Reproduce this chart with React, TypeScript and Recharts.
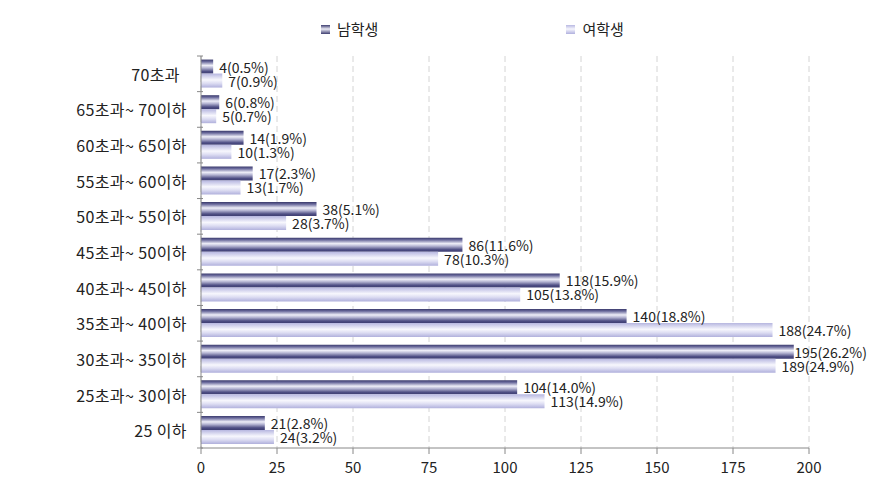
import { useEffect } from "react";
import {
  BarChart,
  Bar,
  XAxis,
  YAxis,
  CartesianGrid,
  LabelList
} from "recharts";

const categories = [
  "70초과",
  "65초과~ 70이하",
  "60초과~ 65이하",
  "55초과~ 60이하",
  "50초과~ 55이하",
  "45초과~ 50이하",
  "40초과~ 45이하",
  "35초과~ 40이하",
  "30초과~ 35이하",
  "25초과~ 30이하",
  "25 이하"
];
const maleValues = [4, 6, 14, 17, 38, 86, 118, 140, 195, 104, 21];
const malePct = ["0.5", "0.8", "1.9", "2.3", "5.1", "11.6", "15.9", "18.8", "26.2", "14.0", "2.8"];
const femaleValues = [7, 5, 10, 13, 28, 78, 105, 188, 189, 113, 24];
const femalePct = ["0.9", "0.7", "1.3", "1.7", "3.7", "10.3", "13.8", "24.7", "24.9", "14.9", "3.2"];
const xTicks = [0, 25, 50, 75, 100, 125, 150, 175, 200];

const data = categories.map((c, i) => ({
  name: c,
  male: maleValues[i],
  female: femaleValues[i],
  maleLabel: `${maleValues[i]}(${malePct[i]}%)`,
  femaleLabel: `${femaleValues[i]}(${femalePct[i]}%)`
}));

const FONT = "'Noto Sans CJK KR', 'Noto Sans', sans-serif";
const RIGHT_LIMIT = 867;

function CategoryTick(props: any) {
  const { x, y, payload } = props;
  const off = payload.offset || 0;
  const first = payload.index === 0;
  return (
    <g>
      <line x1={x + 4} x2={x + 10} y1={y - off} y2={y - off} stroke="#888" />
      {payload.index === categories.length - 1 && (
        <line x1={x + 4} x2={x + 10} y1={y + off} y2={y + off} stroke="#888" />
      )}
      <text
        x={first ? x - 13 : x - 6}
        y={y}
        textAnchor="end"
        dominantBaseline="central"
        fontSize={16}
        letterSpacing={0.4}
        fill="#222"
        fontFamily={FONT}
      >
        {payload.value}
      </text>
    </g>
  );
}

// value label to the right of the bar, pulled back if it would run off the page
function ValueLabel(props: any) {
  const { x, y, width, height, value } = props;
  const s = String(value);
  const tx = x + width + 6;
  const est = s.length * 7.3;
  const over = tx + est > RIGHT_LIMIT;
  return (
    <text
      x={over ? RIGHT_LIMIT : tx}
      y={y + height / 2}
      textAnchor={over ? "end" : "start"}
      dominantBaseline="central"
      fontSize={14}
      fill="#222"
      fontFamily={FONT}
    >
      {s}
    </text>
  );
}

function LegendBox() {
  const item = (label: string, grad: string, ml: number) => (
    <div style={{ display: "flex", alignItems: "center", marginLeft: ml }}>
      <svg width={9} height={9} style={{ marginRight: 7 }}>
        <rect width={9} height={9} fill={`url(#${grad})`} />
      </svg>
      <span style={{ fontSize: 15, color: "#222", fontFamily: FONT, lineHeight: "20px" }}>
        {label}
      </span>
    </div>
  );
  return (
    <div style={{ position: "absolute", top: 19, left: 0, display: "flex", width: 871 }}>
      {item("남학생", "legMale", 321)}
      {item("여학생", "legFemale", 188)}
    </div>
  );
}

export default function App() {
  useEffect(() => {
    document.body.style.margin = "0";
  }, []);

  return (
    <div style={{ width: 871, height: 493, background: "#fff", position: "relative" }}>
      <svg width={0} height={0} style={{ position: "absolute" }}>
        <defs>
          <linearGradient id="legMale" x1="0" y1="0" x2="0" y2="1">
            <stop offset="0" stopColor="#3d3d70" />
            <stop offset="0.45" stopColor="#ececf6" />
            <stop offset="1" stopColor="#3d3d70" />
          </linearGradient>
          <linearGradient id="legFemale" x1="0" y1="0" x2="0" y2="1">
            <stop offset="0" stopColor="#b8b8e2" />
            <stop offset="0.45" stopColor="#f6f6fd" />
            <stop offset="1" stopColor="#b0b0de" />
          </linearGradient>
        </defs>
      </svg>
      <BarChart
        width={871}
        height={493}
        data={data}
        layout="vertical"
        margin={{ top: 56, right: 62, left: 0, bottom: 0 }}
        barCategoryGap="10%"
        barGap={0}
      >
        <defs>
          <linearGradient id="gMale" x1="0" y1="0" x2="0" y2="1">
            <stop offset="0" stopColor="#3a3a6c" />
            <stop offset="0.15" stopColor="#6a6a9c" />
            <stop offset="0.42" stopColor="#eeeef8" />
            <stop offset="0.6" stopColor="#b4b4d2" />
            <stop offset="0.85" stopColor="#4e4e84" />
            <stop offset="1" stopColor="#3e3e72" />
          </linearGradient>
          <linearGradient id="gFemale" x1="0" y1="0" x2="0" y2="1">
            <stop offset="0" stopColor="#b6b6e0" />
            <stop offset="0.45" stopColor="#f7f7fd" />
            <stop offset="0.7" stopColor="#dcdcf2" />
            <stop offset="1" stopColor="#b0b0dc" />
          </linearGradient>
        </defs>
        <CartesianGrid horizontal={false} stroke="#d4d4d4" strokeDasharray="6 4" />
        <XAxis
          type="number"
          domain={[0, 200]}
          ticks={xTicks}
          height={45}
          stroke="#888"
          tickSize={6}
          tickMargin={8}
          tick={{ fill: "#222", fontSize: 15, fontFamily: FONT }}
        />
        <YAxis
          type="category"
          dataKey="name"
          width={201}
          stroke="#888"
          tickLine={false}
          tick={<CategoryTick />}
        />
        <Bar dataKey="male" name="남학생" fill="url(#gMale)" isAnimationActive={false}>
          <LabelList dataKey="maleLabel" content={<ValueLabel />} />
        </Bar>
        <Bar dataKey="female" name="여학생" fill="url(#gFemale)" isAnimationActive={false}>
          <LabelList dataKey="femaleLabel" content={<ValueLabel />} />
        </Bar>
      </BarChart>
      <LegendBox />
    </div>
  );
}
